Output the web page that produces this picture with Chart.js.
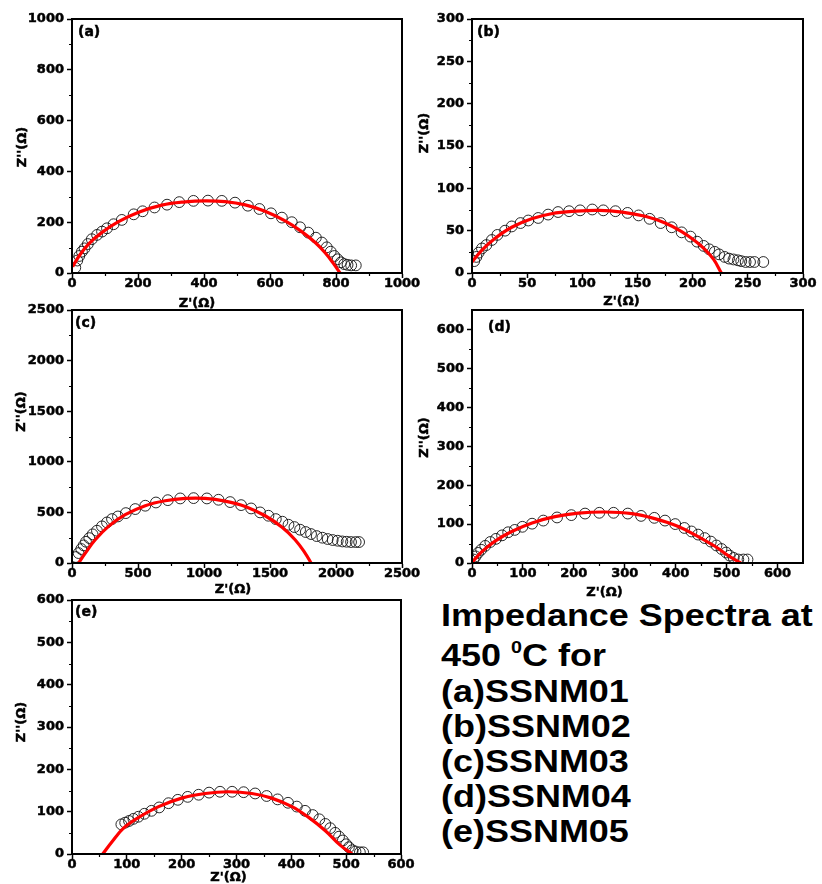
<!DOCTYPE html>
<html>
<head>
<meta charset="utf-8">
<script src="https://cdn.jsdelivr.net/npm/chart.js@4.4.1/dist/chart.umd.min.js"></script>
<style>
  html, body { margin: 0; padding: 0; background: #fff; }
  body { width: 822px; height: 884px; position: relative; overflow: hidden; }
  canvas { position: absolute; }
  .note {
    position: absolute; left: 441px;
    font-family: "Liberation Sans", Arial, sans-serif; font-weight: bold;
    font-size: 31px; line-height: 35px; white-space: nowrap; color: #000;
    transform: scaleX(1.16); transform-origin: 0 0;
  }
  .note sup { font-size: 17px; vertical-align: baseline; position: relative; top: -13px; }
</style>
</head>
<body>
<div class="note" style="top:598px">Impedance Spectra at</div>
<div class="note" style="top:638px">450 <sup>0</sup>C for</div>
<div class="note" style="top:674px">(a)SSNM01</div>
<div class="note" style="top:709px">(b)SSNM02</div>
<div class="note" style="top:744px">(c)SSNM03</div>
<div class="note" style="top:779px">(d)SSNM04</div>
<div class="note" style="top:814px">(e)SSNM05</div>
<script>
const reA = [10, 16, 22, 30, 38, 48, 60, 76, 91, 106, 126, 151, 187, 214, 250, 288, 325, 368, 412, 454, 494, 533, 568, 603, 636, 666, 691, 716, 739, 757, 772, 784, 795, 805, 815, 825, 835, 846, 860];
const imA = [21, 49, 67, 84, 97, 114, 133, 150, 163, 176, 192, 209, 231, 243, 258, 269, 279, 284, 285, 284, 277, 265, 252, 235, 218, 200, 180, 159, 139, 120, 101, 84, 67, 54, 42, 35, 32, 30, 30];
const fitReA = [2, 20, 50, 91, 141, 202, 272, 343, 403, 464, 525, 585, 646, 696, 737, 767, 792, 812];
const fitImA = [25, 64, 114, 160, 202, 239, 267, 280, 284, 281, 268, 243, 205, 163, 120, 80, 38, 0];

const reB = [2, 4, 6, 9, 13, 18, 23, 30, 36, 44, 51, 60, 69, 78, 88, 98, 109, 119, 130, 141, 151, 161, 171, 181, 190, 198, 204, 210, 215, 220, 224, 229, 233, 237, 241, 244, 248, 252, 256, 264];
const imB = [14, 19, 24, 29, 33, 39, 45, 50, 55, 59, 62, 65, 69, 72, 73, 74, 75, 74, 73, 71, 68, 64, 59, 54, 48, 43, 37, 32, 28, 25, 22, 19, 17, 16, 15, 14, 13, 13, 13, 13];
const fitReB = [0, 9, 21, 36, 54, 72, 94, 115, 136, 157, 175, 190, 202, 211, 219, 226];
const fitImB = [13, 27, 41, 54, 64, 70, 73, 74, 72, 67, 59, 49, 38, 28, 16, 0];

const reC = [30, 50, 70, 88, 106, 131, 156, 189, 227, 265, 303, 348, 408, 479, 555, 636, 726, 820, 921, 1022, 1110, 1198, 1281, 1357, 1425, 1488, 1544, 1594, 1640, 1685, 1728, 1771, 1811, 1854, 1897, 1937, 1975, 2013, 2048, 2081, 2114, 2149, 2175];
const imC = [59, 98, 138, 174, 210, 246, 283, 319, 362, 401, 434, 460, 493, 533, 566, 598, 621, 638, 641, 638, 625, 602, 572, 539, 500, 467, 434, 408, 378, 355, 329, 306, 286, 266, 250, 237, 227, 220, 213, 210, 207, 207, 207];
const fitReC = [50, 101, 176, 277, 403, 555, 706, 858, 1009, 1160, 1312, 1463, 1589, 1690, 1766, 1811];
const fitImC = [0, 98, 230, 362, 477, 566, 615, 638, 638, 612, 559, 467, 355, 230, 98, 0];

const reD = [3, 7, 12, 18, 26, 36, 47, 59, 71, 84, 99, 118, 140, 167, 195, 222, 250, 278, 306, 332, 358, 379, 399, 417, 431, 444, 457, 469, 480, 490, 499, 506, 514, 523, 533, 541];
const imD = [9, 17, 26, 34, 44, 54, 62, 71, 79, 85, 93, 101, 109, 117, 123, 127, 129, 129, 127, 121, 116, 109, 100, 90, 81, 73, 64, 55, 45, 36, 27, 19, 13, 9, 9, 9];
const fitReD = [1, 20, 46, 78, 118, 163, 209, 261, 314, 359, 405, 444, 477, 503, 528];
const fitImD = [3, 30, 57, 81, 103, 119, 128, 131, 127, 114, 94, 68, 43, 19, 0];

const reE = [90, 97, 104, 112, 121, 132, 145, 159, 176, 193, 211, 231, 250, 270, 292, 313, 334, 355, 375, 394, 410, 425, 439, 451, 462, 471, 480, 487, 494, 500, 505, 511, 517, 525, 531];
const imE = [70, 74, 78, 83, 88, 95, 102, 110, 120, 128, 135, 140, 145, 147, 147, 146, 143, 137, 129, 121, 112, 102, 92, 82, 71, 61, 50, 41, 32, 23, 16, 9, 6, 4, 4];
const fitReE = [56, 73, 94, 121, 158, 200, 243, 285, 328, 364, 401, 431, 462, 489, 511];
const fitImE = [0, 29, 61, 86, 112, 132, 143, 147, 143, 132, 112, 87, 55, 21, 0];

const tagLabels = ['(a)', '(b)', '(c)', '(d)', '(e)'];
const axisMax = [[1000, 1000], [300, 300], [2500, 2500], [650, 650], [600, 600]];
const axisStep = [[200, 200], [50, 50], [500, 500], [100, 100], [100, 100]];

const zip = (xs, ys) => xs.map((v, i) => ({ x: v, y: ys[i] }));

// frame, minor ticks, panel tag and axis titles
const framePlugin = {
  id: 'frame',
  afterDraw(chart, args, o) {
    const { ctx, chartArea: a } = chart;
    const x = chart.scales.x, y = chart.scales.y;
    ctx.save();
    ctx.strokeStyle = '#000';
    ctx.lineWidth = 1.2;
    ctx.beginPath();
    for (let v = o.xStep / 2; v < x.max; v += o.xStep) {
      const px = Math.round(x.getPixelForValue(v)) + 0.5;
      ctx.moveTo(px, a.bottom); ctx.lineTo(px, a.bottom + 3);
    }
    for (let v = o.yStep / 2; v < y.max; v += o.yStep) {
      const py = Math.round(y.getPixelForValue(v)) + 0.5;
      ctx.moveTo(a.left - 3, py); ctx.lineTo(a.left, py);
    }
    ctx.stroke();
    ctx.lineWidth = 2;
    ctx.strokeRect(a.left, a.top, a.right - a.left, a.bottom - a.top);

    ctx.fillStyle = '#000';
    ctx.strokeStyle = '#000';
    ctx.lineWidth = 0.5;
    ctx.font = 'bold 14px "DejaVu Sans"';
    ctx.textAlign = 'left';
    ctx.textBaseline = 'top';
    ctx.fillText(o.tag, a.left + o.tagDx, a.top + o.tagDy);
    ctx.strokeText(o.tag, a.left + o.tagDx, a.top + o.tagDy);

    ctx.font = 'bold 13px "DejaVu Sans"';
    ctx.textAlign = 'center';
    ctx.textBaseline = 'middle';
    const xt = "Z'(\u03A9)";
    ctx.fillText(xt, (a.left + a.right) / 2 + o.xtDx, a.bottom + o.xtDy);
    ctx.strokeText(xt, (a.left + a.right) / 2 + o.xtDx, a.bottom + o.xtDy);
    ctx.translate(a.left + o.ytDx, (a.top + a.bottom) / 2 + o.ytDy);
    ctx.rotate(-Math.PI / 2);
    ctx.fillText("Z''(\u03A9)", 0, 0);
    ctx.strokeText("Z''(\u03A9)", 0, 0);
    ctx.restore();
  }
};

const panels = [
  { re: reA, im: imA, fre: fitReA, fim: fitImA, box: [72, 19, 402, 273], tagDx: 6, tagDy: 6, xtDx: -40, xtDy: 31, ytDx: -49, ytDy: 1 },
  { re: reB, im: imB, fre: fitReB, fim: fitImB, box: [472, 19, 803, 273], tagDx: 5, tagDy: 6, xtDx: -16, xtDy: 29, ytDx: -47, ytDy: -13 },
  { re: reC, im: imC, fre: fitReC, fim: fitImC, box: [72, 310, 402, 563], tagDx: 3, tagDy: 6, xtDx: -4, xtDy: 27, ytDx: -50, ytDy: -25 },
  { re: reD, im: imD, fre: fitReD, fim: fitImD, box: [472, 310, 803, 563], tagDx: 16, tagDy: 10, xtDx: -33, xtDy: 30, ytDx: -47, ytDy: 1 },
  { re: reE, im: imE, fre: fitReE, fim: fitImE, box: [72, 600, 401, 854], tagDx: 3, tagDy: 5, xtDx: -8, xtDy: 24, ytDx: -50, ytDy: -5 }
];

const tickFont = { family: 'DejaVu Sans', weight: 'bold', size: 13 };
const padL = 72, padT = 12, padR = 22, padB = 40;

panels.forEach((p, i) => {
  const [L, T, R, B] = p.box;
  const cv = document.createElement('canvas');
  cv.width = R - L + padL + padR;
  cv.height = B - T + padT + padB;
  cv.style.left = (L - padL) + 'px';
  cv.style.top = (T - padT) + 'px';
  document.body.appendChild(cv);

  const grid = { display: true, drawOnChartArea: false, drawTicks: true, tickLength: 5, tickColor: '#000', tickWidth: 1.5 };
  const tickCommon = {
    includeBounds: false, autoSkip: false, color: '#000', font: tickFont,
    textStrokeColor: '#000', textStrokeWidth: 0.5,
    callback: v => String(v)
  };

  new Chart(cv.getContext('2d'), {
    type: 'scatter',
    data: {
      datasets: [
        {
          data: zip(p.fre, p.fim),
          showLine: true,
          borderColor: '#ff0000',
          borderWidth: 3.2,
          pointRadius: 0,
          tension: 0.4,
          order: 0
        },
        {
          data: zip(p.re, p.im),
          pointStyle: 'circle',
          pointRadius: 5.4,
          pointBorderWidth: 0.9,
          pointBorderColor: '#111',
          pointBackgroundColor: 'rgba(0,0,0,0)',
          order: 1
        }
      ]
    },
    options: {
      responsive: false,
      animation: false,
      devicePixelRatio: 1,
      layout: { padding: { left: 0, top: padT, right: padR, bottom: 0 } },
      plugins: {
        legend: { display: false },
        tooltip: { enabled: false },
        frame: {
          tag: tagLabels[i], xStep: axisStep[i][0], yStep: axisStep[i][1],
          tagDx: p.tagDx, tagDy: p.tagDy, xtDx: p.xtDx, xtDy: p.xtDy, ytDx: p.ytDx, ytDy: p.ytDy
        }
      },
      scales: {
        x: {
          type: 'linear', min: 0, max: axisMax[i][0],
          ticks: Object.assign({ stepSize: axisStep[i][0], maxRotation: 0, padding: -2 }, tickCommon),
          grid: grid,
          border: { display: true, color: '#000', width: 2 },
          afterFit: s => { s.height = padB; }
        },
        y: {
          type: 'linear', min: 0, max: axisMax[i][1],
          ticks: Object.assign({ stepSize: axisStep[i][1], padding: 3 }, tickCommon),
          grid: grid,
          border: { display: true, color: '#000', width: 2 },
          afterFit: s => { s.width = padL; }
        }
      }
    },
    plugins: [framePlugin]
  });
});
</script>
</body>
</html>
